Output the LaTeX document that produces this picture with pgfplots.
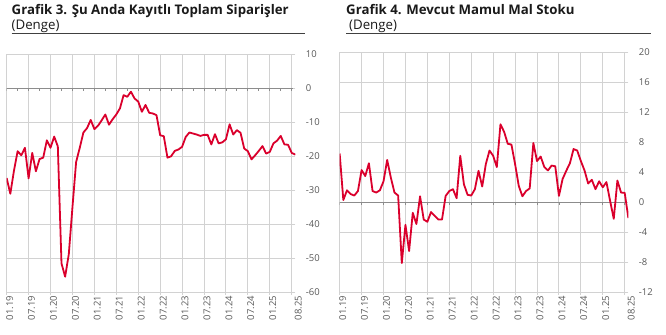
\documentclass[border=0pt]{standalone}
\usepackage{fontspec}
\setmainfont{Open Sans}
\usepackage{pgfplots}
\pgfplotsset{compat=1.18}
\usepackage{pgfplotstable}

\definecolor{linered}{RGB}{218,0,44}
\definecolor{gridgray}{RGB}{210,210,210}
\definecolor{zerogray}{RGB}{140,140,140}
\definecolor{ticklbl}{RGB}{89,89,89}
\definecolor{titlecol}{RGB}{26,26,26}
\definecolor{rulecol}{RGB}{64,64,64}

\pgfplotstableread{
i v
0 -26.4
1 -31.0
2 -24.2
3 -18.5
4 -19.7
5 -17.5
6 -26.5
7 -19.0
8 -24.4
9 -20.8
10 -20.4
11 -15.3
12 -17.5
13 -14.2
14 -17.1
15 -51.5
16 -55.4
17 -48.8
18 -35.0
19 -21.7
20 -17.5
21 -13.0
22 -11.7
23 -9.3
24 -12.0
25 -11.0
26 -9.4
27 -7.7
28 -10.7
29 -9.1
30 -7.7
31 -5.9
32 -2.0
33 -2.5
34 -1.0
35 -3.0
36 -3.9
37 -6.9
38 -4.9
39 -7.2
40 -7.4
41 -7.9
42 -13.8
43 -14.1
44 -20.4
45 -20.0
46 -18.4
47 -18.0
48 -17.2
49 -14.3
50 -13.0
51 -13.3
52 -13.6
53 -14.0
54 -13.7
55 -13.7
56 -16.5
57 -13.5
58 -16.2
59 -15.9
60 -15.0
61 -10.6
62 -13.6
63 -12.3
64 -13.1
65 -17.7
66 -18.5
67 -20.9
68 -19.7
69 -18.4
70 -17.0
71 -19.2
72 -18.7
73 -16.2
74 -15.4
75 -14.0
76 -16.5
77 -16.6
78 -19.0
79 -19.5
}\dataA

\pgfplotstableread{
i v
0 6.5
1 0.3
2 1.6
3 1.1
4 0.9
5 1.5
6 4.3
7 3.5
8 5.2
9 1.5
10 1.3
11 1.6
12 2.8
13 5.65
14 3.3
15 1.3
16 0.9
17 -8.1
18 -3.0
19 -6.5
20 -1.4
21 -2.9
22 0.8
23 -2.3
24 -2.6
25 -1.3
26 -1.8
27 -2.3
28 -2.3
29 0.85
30 1.5
31 1.75
32 0.55
33 6.2
34 2.4
35 1.0
36 0.9
37 1.75
38 4.2
39 2.1
40 5.1
41 6.9
42 6.2
43 4.7
44 10.4
45 9.4
46 7.8
47 7.7
48 5.1
49 2.2
50 0.8
51 1.5
52 1.85
53 7.9
54 5.5
55 6.1
56 4.7
57 4.25
58 4.9
59 4.8
60 0.85
61 3.1
62 4.2
63 5.2
64 7.1
65 6.9
66 5.5
67 4.25
68 2.5
69 3.0
70 1.75
71 2.8
72 2.0
73 2.7
74 0.2
75 -2.2
76 2.9
77 1.3
78 1.25
79 -2.1
}\dataB

\pgfplotsset{
  panel/.style={
    scale only axis,
    width=288.7bp,
    xmin=0, xmax=79,
    axis line style={draw=none},
    grid=major,
    major grid style={gridgray, line width=1bp},
    xtick={0,6,...,72,78},
    xticklabels={01.19,07.19,01.20,07.20,01.21,07.21,01.22,07.22,01.23,07.23,01.24,07.24,01.25,{}},
    extra x ticks={79},
    extra x tick labels={08.25},
    extra x tick style={grid=none, tick style={draw=none}},
    xtick pos=left,
    xtick align=outside,
    major tick length=2.5bp,
    tick style={gridgray, line width=1bp},
    x tick label style={rotate=90, anchor=east, font=\fontsize{9.5}{10}\selectfont, text=ticklbl, inner sep=1bp, yshift=-3bp},
    ytick pos=right,
    ytick align=inside,
    yticklabel pos=right,
    y tick label style={anchor=west, font=\fontsize{9.5}{10}\selectfont, text=ticklbl, xshift=7bp},
    /pgf/number format/assume math mode=true,
    extra y ticks={0},
    extra y tick style={major grid style={zerogray, line width=1bp}},
  }
}

\begin{document}
\begin{tikzpicture}
\useasboundingbox (0,0) rectangle (666bp,335bp);

% Left titles
\node[anchor=base west, inner sep=0, text=titlecol, font=\bfseries\fontsize{13.3}{15}\selectfont] at (11.5bp,320bp) {Grafik 3. Şu Anda Kayıtlı Toplam Siparişler};
\node[anchor=base west, inner sep=0, text=titlecol, font=\fontsize{13.3}{15}\selectfont] at (11.5bp,305.5bp) {(Denge)};
\draw[rulecol, line width=1bp] (11.7bp,301.5bp) -- (305bp,301.5bp);

% Right titles
\node[anchor=base west, inner sep=0, text=titlecol, font=\bfseries\fontsize{13.3}{15}\selectfont] at (346bp,320bp) {Grafik 4. Mevcut Mamul Mal Stoku};
\node[anchor=base west, inner sep=0, text=titlecol, font=\fontsize{13.3}{15}\selectfont] at (349bp,305.5bp) {(Denge)};
\draw[rulecol, line width=1bp] (346bp,301.5bp) -- (651bp,301.5bp);

\begin{axis}[panel,
  at={(6.67bp,42.7bp)}, anchor=south west,
  height=238bp,
  ymin=-60, ymax=10,
  ytick={-60,-50,-40,-30,-20,-10,10},
  extra y tick labels={0},
]
\pgfplotsinvokeforeach{0,3,...,78}{\draw[zerogray, line width=0.8bp] (axis cs:#1,0) -- ([yshift=-2.5bp]axis cs:#1,0);}
\addplot[linered, line width=1.8bp, line join=round] table[x=i, y=v] {\dataA};
\end{axis}

\begin{axis}[panel,
  at={(339.67bp,42.7bp)}, anchor=south west,
  height=240bp,
  ymin=-12, ymax=20,
  ytick={-12,-8,-4,4,8,12,16,20},
  extra y tick labels={0},
]
\pgfplotsinvokeforeach{0,6,...,78}{\draw[zerogray, line width=0.8bp] (axis cs:#1,0) -- ([yshift=-2.5bp]axis cs:#1,0);}
\addplot[linered, line width=1.8bp, line join=round] table[x=i, y=v] {\dataB};
\end{axis}
\end{tikzpicture}
\end{document}
